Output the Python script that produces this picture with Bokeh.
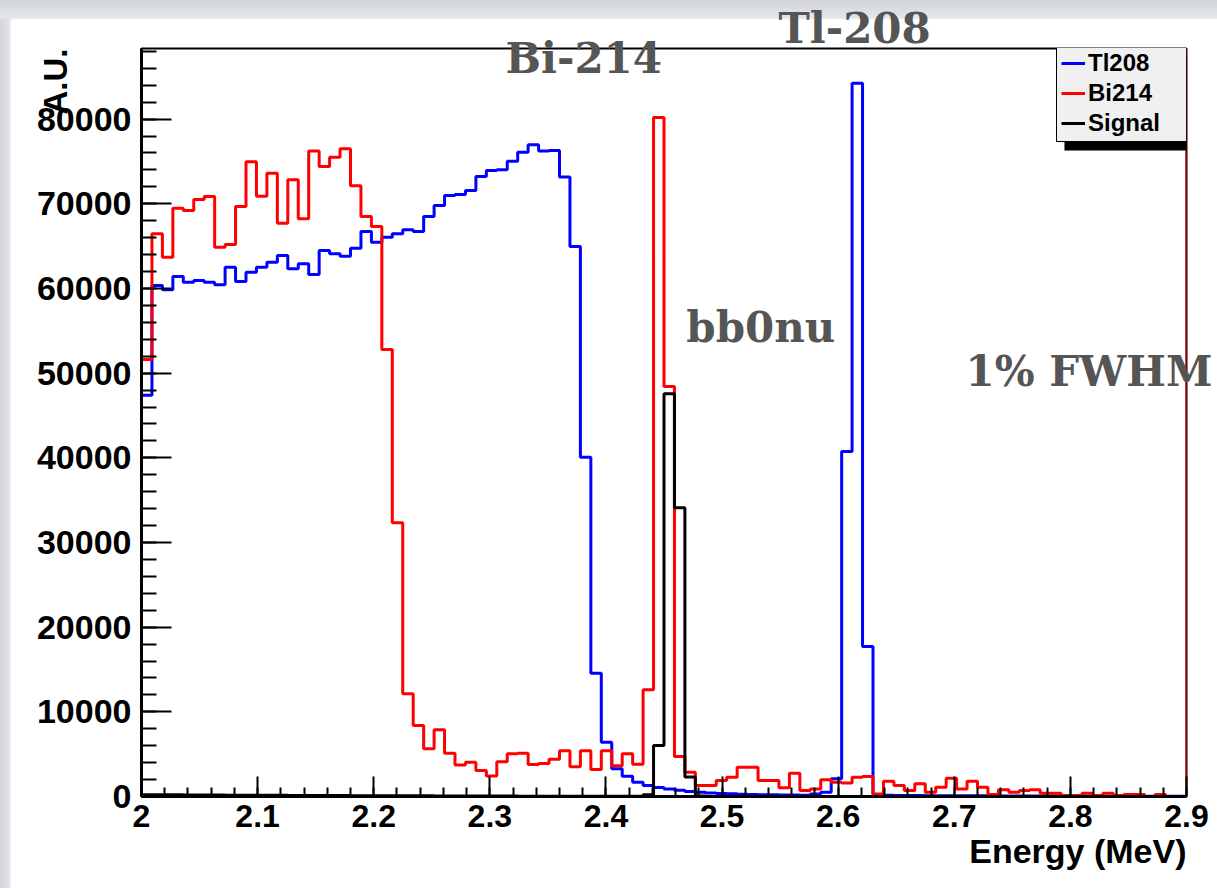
import numpy as np
from bokeh.plotting import figure
from bokeh.models import (Range1d, SingleIntervalTicker, FixedTicker, CustomJSTickFormatter, Label,
                          Legend, LegendItem, BoxAnnotation, Title)
from bokeh.embed import file_html
from bokeh.resources import INLINE

# ---------------- data ----------------
x_start = 2.0
x_end = 2.9
n_bins = 100
y_top = 88340

tl208 = [47400, 60350, 59840, 61410, 60740, 60940, 60740, 60430, 62520, 60820,
         61920, 62520, 63110, 63900, 62320, 62910, 61650, 64490, 64100, 63810,
         64760, 66730, 65470, 66060, 66460, 66930, 66730, 68500, 69800, 70980,
         71100, 71570, 73230, 73930, 74010, 75030, 76100, 76970, 76220, 76300,
         73150, 64960, 40070, 14560, 6420, 3270, 2400, 1690, 1300, 1050,
         900, 740, 600, 510, 420, 360, 320, 280, 250, 220,
         200, 180, 170, 160, 300, 500, 2090, 40750, 84250, 17720,
         240, 150, 130, 120, 110, 100, 100, 90, 90, 80,
         80, 70, 70, 60, 60, 60, 50, 50, 50, 40,
         40, 40, 40, 30, 30, 30, 30, 30, 20, 20]

bi214 = [51600, 66460, 63700, 69480, 69210, 70510, 70860, 64880, 65200, 69680,
         74960, 70900, 73620, 67710, 72830, 68230, 76220, 74410, 75510, 76500,
         72130, 68500, 67320, 52790, 32320, 12130, 8390, 5630, 7870, 5100,
         3720, 4050, 3070, 2420, 4090, 5040, 5120, 3780, 3900, 4400,
         5400, 3500, 5400, 3200, 5400, 3640, 5040, 3820, 12600, 80190,
         48420, 4720, 2870, 1300, 1300, 1890, 2280, 3460, 3460, 1890,
         1890, 1020, 2760, 710, 900, 1970, 1690, 1580, 2280, 2360,
         310, 1810, 1300, 710, 1500, 510, 1100, 2160, 900, 1810,
         1100, 240, 790, 510, 710, 790, 390, 390, 120, 120,
         390, 120, 390, 120, 240, 240, 0, 240, 0, 0]

signal = [220, 210, 200, 200, 190, 180, 180, 170, 160, 160,
          150, 150, 140, 140, 130, 130, 120, 120, 110, 110,
          100, 100, 100, 90, 90, 80, 80, 80, 70, 70,
          60, 60, 60, 50, 50, 50, 40, 40, 40, 40,
          30, 30, 30, 30, 20, 20, 20, 20, 200, 6020,
          47560, 34100, 2300, 60, 0, 0, 0, 0, 0, 0,
          0, 0, 0, 0, 0, 0, 0, 0, 0, 0,
          0, 0, 0, 0, 0, 0, 0, 0, 0, 0,
          0, 0, 0, 0, 0, 0, 0, 0, 0, 0,
          0, 0, 0, 0, 0, 0, 0, 0, 0, 0]

series_names = ["Tl208", "Bi214", "Signal"]
x_tick_labels = ["2", "2.1", "2.2", "2.3", "2.4", "2.5", "2.6", "2.7", "2.8", "2.9"]
x_major_ticks = [2.0, 2.1, 2.2, 2.3, 2.4, 2.5, 2.6, 2.7, 2.8, 2.9]
y_ticks_major = 10000

edges = np.linspace(x_start, x_end, n_bins + 1)
x_minor_ticks = [float(v) for v in np.round(np.linspace(x_start, x_end, 46), 3)]

# ---------------- figure ----------------
TICK_FONT = "Liberation Sans"
ANNOT_FONT = "DejaVu Serif"
ANNOT_COLOR = "#555555"

p = figure(frame_width=1045, frame_height=748,
           min_border_left=141, min_border_right=31, min_border_top=48, min_border_bottom=92,
           x_range=Range1d(x_start, x_end), y_range=Range1d(0, y_top),
           output_backend="svg", toolbar_location=None, tools="")
p.xgrid.visible = False
p.ygrid.visible = False
p.background_fill_color = "white"
p.border_fill_color = None
p.outline_line_color = "black"
p.outline_line_width = 2
p.outline_line_alpha = 1
p.styles = {"background": "linear-gradient(to bottom, #d2d5d9 0px, #e4e6e9 18px, rgba(255,255,255,0) 20px), "
                          "linear-gradient(to right, #d3d5d9 0px, #e3e4e7 10px, #ffffff 11px)"}

def step_xy(vals):
    return list(edges), list(vals) + [vals[-1]]

colors = ["#0000ff", "#ff0000", "#000000"]
renderers = []
for vals, col in zip([tl208, bi214, signal], colors):
    xs, ys = step_xy(vals)
    renderers.append(p.step(x=xs, y=ys, mode="after", line_color=col, line_width=3))

# red closing edge at the upper end of the range
p.segment(x0=[x_end], y0=[bi214[-1]], x1=[x_end], y1=[y_top], line_color="#ff0000", line_width=2)

# axes
for ax in (p.xaxis[0], p.yaxis[0]):
    ax.axis_line_width = 3
    ax.axis_line_color = "black"
    ax.major_tick_line_width = 2
    ax.minor_tick_line_width = 2
    ax.major_tick_out = 0
    ax.minor_tick_out = 0
    ax.major_label_text_font = TICK_FONT
    ax.major_label_text_font_style = "bold"
    ax.major_label_text_color = "black"

p.yaxis.ticker = SingleIntervalTicker(interval=y_ticks_major, num_minor_ticks=5)
p.yaxis.major_tick_in = 30
p.yaxis.minor_tick_in = 15
p.yaxis.major_label_standoff = 10
p.yaxis.major_label_text_font_size = "34px"

p.xaxis.ticker = FixedTicker(ticks=x_major_ticks, minor_ticks=x_minor_ticks)
p.xaxis.major_tick_in = 20
p.xaxis.minor_tick_in = 9
p.xaxis.major_label_standoff = 8
p.xaxis.major_label_text_font_size = "32px"
p.xaxis.formatter = CustomJSTickFormatter(
    args=dict(lab_list=x_tick_labels, val_list=x_major_ticks),
    code="let b = 0; for (let i = 0; i < val_list.length; i++) { if (Math.abs(val_list[i] - tick) < Math.abs(val_list[b] - tick)) b = i; } return lab_list[b];")

# axis titles (side panel titles, not clipped by the frame)
p.add_layout(Title(text="A.U.", align="right", vertical_align="bottom", standoff=-81, offset=0,
                   text_font=TICK_FONT, text_font_style="bold", text_font_size="33px",
                   text_color="black"), "left")
p.add_layout(Title(text="Energy (MeV)", align="right", vertical_align="top", standoff=5, offset=0,
                   text_font=TICK_FONT, text_font_style="bold", text_font_size="34px",
                   text_color="black"), "below")

# peak annotations
for txt, off, so in [("1% FWHM", 824, -694), ("Bi-214", 364, -68), ("Tl-208", 637, -8)]:
    p.add_layout(Title(text=txt, align="left", vertical_align="bottom", standoff=so, offset=off,
                       text_font=ANNOT_FONT, text_font_style="bold", text_font_size="42px",
                       text_color=ANNOT_COLOR), "above")

p.add_layout(Label(x=2.4692, y=55390, text="bb0nu", text_align="left", text_baseline="alphabetic",
                   text_font=ANNOT_FONT, text_font_style="bold",
                   text_font_size="42px", text_color=ANNOT_COLOR))

# legend shadow
p.add_layout(BoxAnnotation(left=2.7949, right=2.9069, top=87640, bottom=76300,
                           fill_color="black", fill_alpha=1, line_color=None))

legend = Legend(items=[LegendItem(label=n, renderers=[r]) for n, r in zip(series_names, renderers)],
                location=(915, 654), orientation="vertical",
                background_fill_color="#f0f0f0", background_fill_alpha=1,
                border_line_color="black", border_line_width=1, border_line_alpha=1,
                label_text_font=TICK_FONT, label_text_font_style="bold",
                label_text_font_size="24px", label_text_color="black",
                glyph_width=24, glyph_height=24, label_height=24, label_width=96,
                label_standoff=3, spacing=2, padding=4, margin=0)
p.add_layout(legend)

open("out.html", "w").write(file_html(p, INLINE))
